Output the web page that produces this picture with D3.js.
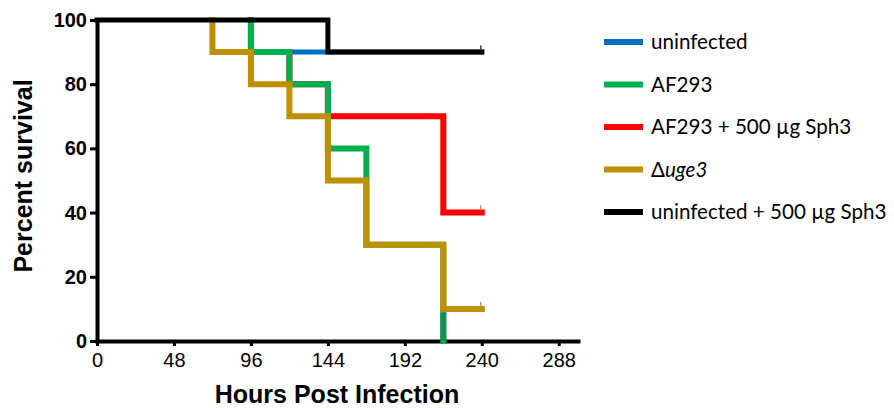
<!DOCTYPE html>
<html>
<head>
<meta charset="utf-8">
<script src="https://cdn.jsdelivr.net/npm/d3@7"></script>
<style>
  html, body { margin: 0; padding: 0; background: #fff; }
  svg { display: block; }
</style>
</head>
<body>
<svg id="grafico" width="894" height="408"></svg>
<script>
// datos (horas, % supervivencia)
const grupos = ['uninfected', 'AF293', 'AF293 + 500 µg Sph3', 'Δuge3', 'uninfected + 500 µg Sph3'];
const colores = ['#0070C0', '#00B050', '#FF0000', '#BF9000', '#000000'];

const horas_uninfected = [0, 96, 240];
const surv_uninfected = [100, 90, 90];

const horas_af293 = [0, 96, 120, 144, 168, 216];
const surv_af293 = [100, 90, 80, 60, 30, 0];

const horas_af293_sph3 = [0, 96, 120, 144, 216, 240];
const surv_af293_sph3 = [100, 90, 80, 70, 40, 40];

const horas_uge3 = [0, 72, 96, 120, 144, 168, 216, 240];
const surv_uge3 = [100, 90, 80, 70, 50, 30, 10, 10];

const horas_uninf_sph3 = [0, 144, 240];
const surv_uninf_sph3 = [100, 90, 90];

const ticks_x = [0, 48, 96, 144, 192, 240, 288];
const ticks_y = [0, 20, 40, 60, 80, 100];

const series = [
    {nombre: grupos[0], color: colores[0], horas: horas_uninfected, surv: surv_uninfected, ancho: 5},
    {nombre: grupos[2], color: colores[2], horas: horas_af293_sph3, surv: surv_af293_sph3, ancho: 6},
    {nombre: grupos[1], color: colores[1], horas: horas_af293, surv: surv_af293, ancho: 6, colorFinal: '#1E8A55'},
    {nombre: grupos[3], color: colores[3], horas: horas_uge3, surv: surv_uge3, ancho: 6},
    {nombre: grupos[4], color: colores[4], horas: horas_uninf_sph3, surv: surv_uninf_sph3, ancho: 5}
];

const svg = d3.select('#grafico');

const x = d3.scaleLinear().domain([0, 300]).range([97, 578]);
const y = d3.scaleLinear().domain([0, 100]).range([341, 20]);

// ejes
const ejeY = svg.append('g')
    .attr('transform', `translate(${x(0)},0)`)
    .call(d3.axisLeft(y).tickValues(ticks_y).tickSize(7).tickSizeOuter(0).tickPadding(3));
ejeY.select('.domain').attr('stroke-width', 4).attr('stroke-linecap', 'square');
ejeY.selectAll('.tick line').attr('stroke-width', 3);
ejeY.selectAll('.tick text')
    .attr('font-family', 'Liberation Sans, Arial, sans-serif')
    .attr('font-weight', 'bold')
    .attr('font-size', 20)
    .attr('fill', '#000');

const ejeX = svg.append('g')
    .attr('transform', `translate(0,${y(0)})`)
    .call(d3.axisBottom(x).tickValues(ticks_x).tickSize(5).tickSizeOuter(0).tickPadding(7));
ejeX.select('.domain').attr('stroke-width', 4).attr('stroke-linecap', 'square');
ejeX.selectAll('.tick line').attr('stroke-width', 3);
ejeX.selectAll('.tick text')
    .attr('font-family', 'Liberation Sans, Arial, sans-serif')
    .attr('font-size', 20)
    .attr('fill', '#000');

svg.append('text')
    .attr('x', 337).attr('y', 403)
    .attr('text-anchor', 'middle')
    .attr('font-family', 'Liberation Sans, Arial, sans-serif')
    .attr('font-weight', 'bold')
    .attr('font-size', 25)
    .text('Hours Post Infection');

svg.append('text')
    .attr('transform', 'translate(32,176) rotate(-90)')
    .attr('text-anchor', 'middle')
    .attr('font-family', 'Liberation Sans, Arial, sans-serif')
    .attr('font-weight', 'bold')
    .attr('font-size', 25)
    .text('Percent survival');

// curvas escalonadas (empiezan en la primera caida, el tramo a 100 lo tapa la negra)
function puntos(s) {
    const p = [];
    const inicio = s.nombre.startsWith('uninfected +') ? 0 : 1;
    for (let i = inicio; i < s.horas.length; i++) {
        if (i > 0) p.push([s.horas[i], s.surv[i - 1]]);
        p.push([s.horas[i], s.surv[i]]);
    }
    return p;
}

const linea = d3.line().x(d => x(d[0])).y(d => y(d[1]));

const curvas = svg.append('g');
series.forEach(s => {
    const p = puntos(s);
    curvas.append('path')
        .attr('d', linea(p))
        .attr('fill', 'none')
        .attr('stroke', s.color)
        .attr('stroke-width', s.ancho)
        .attr('stroke-linejoin', 'miter')
        .attr('stroke-linecap', 'square');
    const n = s.horas.length;
    if (s.colorFinal && s.surv[n - 1] === 0) {
        curvas.append('line')
            .attr('x1', x(s.horas[n - 1])).attr('x2', x(s.horas[n - 1]))
            .attr('y1', y(10) + 4).attr('y2', y(0))
            .attr('stroke', s.colorFinal)
            .attr('stroke-width', s.ancho);
    }
});

// marcas de censura al final
series.filter(s => s.surv[s.surv.length - 1] > 0).forEach(s => {
    const t = s.horas[s.horas.length - 1];
    const v = s.surv[s.surv.length - 1];
    svg.append('line')
        .attr('x1', x(t) - 1).attr('x2', x(t) - 1)
        .attr('y1', y(v) - s.ancho / 2).attr('y2', y(v) - s.ancho / 2 - 4)
        .attr('stroke', s.color === '#000000' ? '#333' : '#a08060')
        .attr('stroke-width', 1.2);
});

// leyenda
const leyenda = svg.append('g');
const filas = [grupos[0], grupos[1], grupos[2], grupos[3], grupos[4]];
const yLeyenda = d3.scalePoint().domain(filas).range([42, 212]);

filas.forEach((g, i) => {
    const yy = yLeyenda(g);
    leyenda.append('line')
        .attr('x1', 604).attr('x2', 643)
        .attr('y1', yy).attr('y2', yy)
        .attr('stroke', colores[i])
        .attr('stroke-width', 6);
    const txt = leyenda.append('text')
        .attr('x', 651).attr('y', yy + 7)
        .attr('font-family', 'Lato, sans-serif')
        .attr('font-size', 20.6)
        .attr('fill', '#000');
    if (g === 'Δuge3') {
        txt.append('tspan').text('Δ');
        txt.append('tspan').attr('font-style', 'italic').text('uge3');
    } else {
        txt.text(g);
    }
});
</script>
</body>
</html>
